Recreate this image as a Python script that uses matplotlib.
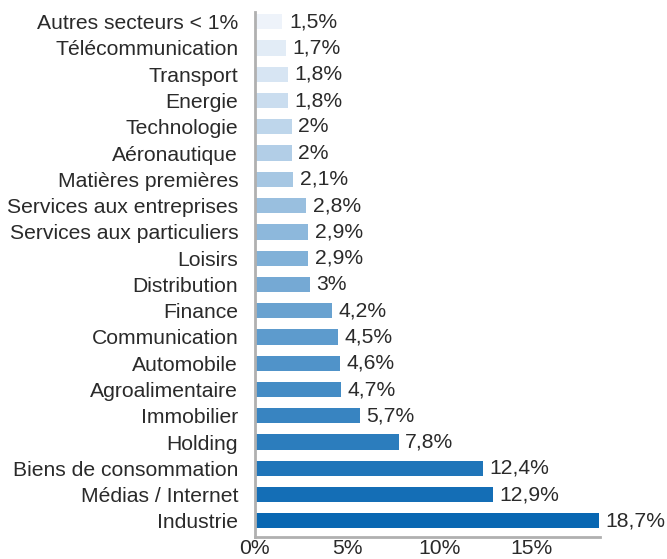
import matplotlib.pyplot as plt
import numpy as np
from matplotlib.colors import LinearSegmentedColormap

plt.rcParams['font.family'] = ['Liberation Sans', 'DejaVu Sans']

sectors = ['Autres secteurs < 1%', 'Télécommunication', 'Transport', 'Energie',
           'Technologie', 'Aéronautique', 'Matières premières',
           'Services aux entreprises', 'Services aux particuliers', 'Loisirs',
           'Distribution', 'Finance', 'Communication', 'Automobile',
           'Agroalimentaire', 'Immobilier', 'Holding',
           'Biens de consommation', 'Médias / Internet', 'Industrie']
shares = [1.5, 1.7, 1.8, 1.8, 2.0, 2.0, 2.1, 2.8, 2.9, 2.9, 3.0, 4.2, 4.5,
          4.6, 4.7, 5.7, 7.8, 12.4, 12.9, 18.7]
xticks = [0, 5, 10, 15]


def fmt(v):
	''' french style percent, no trailing ,0 '''
	s = ('%g' % v).replace('.', ',')
	return s + '%'


cmap = LinearSegmentedColormap.from_list('sect', ['#eef3fa', '#0867b2'])
n = len(sectors)
colors = [cmap(i / (n - 1)) for i in range(n)]

fig = plt.figure(figsize=(6.67, 5.59), dpi=100)
ax = fig.add_axes([0.382, 0.04, 0.518, 0.939])

fs = 15.2
y = np.arange(n)[::-1]
ax.barh(y, shares, height=0.58, color=colors)

for yi, v in zip(y, shares):
	ax.text(v + 0.35, yi, fmt(v), va='center', ha='left', fontsize=fs, color='#2a2a2a')

ax.set_yticks(y)
ax.set_yticklabels(sectors, fontsize=fs, color='#2a2a2a')
ax.set_xticks(xticks)
ax.set_xticklabels([fmt(t) for t in xticks], fontsize=fs, color='#2a2a2a')
ax.tick_params(length=0, axis='y', pad=12)
ax.tick_params(length=0, axis='x', pad=2)
ax.set_xlim(0, 18.75)
ax.set_ylim(-0.6, n - 1 + 0.38)

for side in ['top', 'right']:
	ax.spines[side].set_visible(False)
for side in ['left', 'bottom']:
	ax.spines[side].set_color('#b0b0b0')
	ax.spines[side].set_linewidth(2)

fig.savefig('out.png', dpi=100)
